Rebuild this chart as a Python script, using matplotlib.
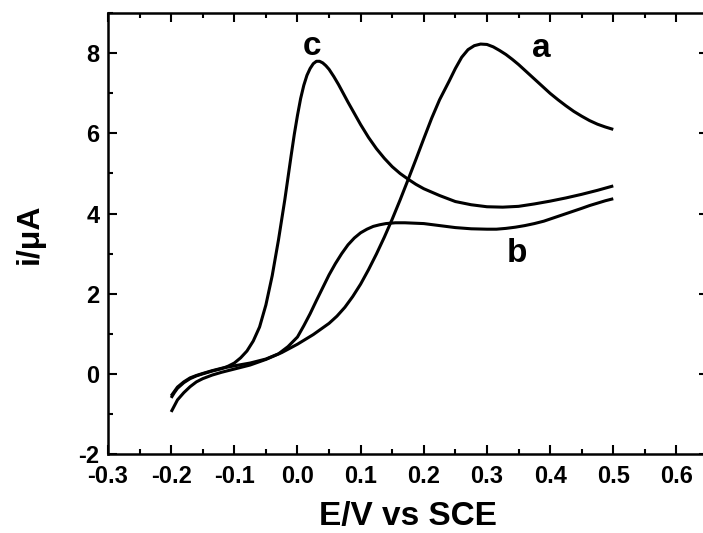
import matplotlib
matplotlib.use("Agg")
import matplotlib.pyplot as plt
from matplotlib.ticker import MultipleLocator

plt.rcParams['font.family'] = ['Liberation Sans', 'DejaVu Sans']
plt.rcParams['font.weight'] = 'bold'

# Linear sweep voltammograms (current vs potential)
E_a = [-0.2, -0.195, -0.19, -0.18, -0.17, -0.16, -0.15, -0.135, -0.12, -0.1, -0.075,
       -0.05, -0.025, 0.0, 0.025, 0.05, 0.0625, 0.075, 0.0875, 0.1, 0.1125, 0.125,
       0.1375, 0.15, 0.1625, 0.175, 0.1875, 0.2, 0.2125, 0.225,
       0.24, 0.25, 0.26, 0.27, 0.28, 0.29, 0.3, 0.31, 0.32, 0.33, 0.34, 0.35, 0.3625,
       0.375, 0.3875, 0.4, 0.4125, 0.425, 0.4375, 0.45, 0.4625, 0.475, 0.4875, 0.5]
i_a = [-0.95, -0.8, -0.65, -0.47, -0.32, -0.2, -0.12, -0.03, 0.04, 0.12, 0.22,
       0.36, 0.53, 0.74, 0.98, 1.26, 1.44, 1.66, 1.93, 2.24, 2.6, 2.99,
       3.41, 3.86, 4.34, 4.84, 5.35, 5.87, 6.38, 6.84,
       7.3, 7.62, 7.9, 8.09, 8.19, 8.23, 8.22, 8.16, 8.07, 7.97, 7.85, 7.72, 7.54,
       7.36, 7.18, 7.0, 6.84, 6.69, 6.55, 6.43, 6.32, 6.23, 6.16, 6.1]

E_b = [-0.2, -0.195, -0.19, -0.18, -0.17, -0.16, -0.15, -0.135, -0.12, -0.1, -0.075,
       -0.05, -0.03, -0.015, 0.0, 0.01, 0.02, 0.03, 0.04, 0.05, 0.06, 0.07, 0.08,
       0.09, 0.1, 0.11, 0.12, 0.13, 0.14, 0.155, 0.17, 0.185, 0.2, 0.225, 0.25,
       0.275, 0.3, 0.315, 0.33, 0.345, 0.36, 0.375, 0.39, 0.405, 0.42, 0.435, 0.45,
       0.4625, 0.475, 0.4875, 0.5]
i_b = [-0.55, -0.44, -0.33, -0.2, -0.1, -0.04, 0.01, 0.08, 0.14, 0.2, 0.27,
       0.37, 0.5, 0.68, 0.92, 1.2, 1.5, 1.83, 2.15, 2.47, 2.75, 3.0, 3.22,
       3.39, 3.52, 3.61, 3.68, 3.72, 3.75, 3.77, 3.77, 3.76, 3.75, 3.7, 3.65,
       3.62, 3.61, 3.61, 3.63, 3.66, 3.7, 3.75, 3.81, 3.89, 3.97, 4.05, 4.13,
       4.2, 4.26, 4.32, 4.37]

E_c = [-0.2, -0.195, -0.19, -0.18, -0.17, -0.16, -0.15, -0.135, -0.12, -0.11, -0.1,
       -0.09, -0.08, -0.07, -0.06, -0.05, -0.04, -0.03, -0.02, -0.01, -0.005, 0.0,
       0.005, 0.01, 0.015, 0.02, 0.025, 0.03, 0.035, 0.04, 0.045, 0.05, 0.0575,
       0.065, 0.0725, 0.08, 0.09, 0.1, 0.1125, 0.125, 0.1375, 0.15, 0.1625, 0.175,
       0.1875, 0.2, 0.225, 0.25, 0.275, 0.3, 0.325, 0.35, 0.375, 0.4, 0.425, 0.45,
       0.475, 0.5]
i_c = [-0.6, -0.47, -0.36, -0.22, -0.12, -0.05, 0.0, 0.07, 0.13, 0.19, 0.27,
       0.4, 0.57, 0.82, 1.17, 1.72, 2.45, 3.35, 4.35, 5.45, 5.98, 6.45,
       6.87, 7.2, 7.45, 7.62, 7.74, 7.8, 7.8, 7.76, 7.69, 7.6, 7.42,
       7.22, 7.0, 6.78, 6.5, 6.22, 5.9, 5.62, 5.38, 5.17, 5.0, 4.86,
       4.73, 4.62, 4.45, 4.3, 4.22, 4.17, 4.16, 4.18, 4.24, 4.31, 4.39, 4.48,
       4.58, 4.69]

curve_labels = ['a', 'b', 'c']
label_pos = [(0.3855, 7.9), (0.3475, 2.79), (0.023, 7.96)]

fig = plt.figure(figsize=(7.03, 5.33), dpi=100)
ax = fig.add_axes([108 / 703, 79 / 533, 600 / 703, 440.8 / 533])

for E, i in [(E_a, i_a), (E_b, i_b), (E_c, i_c)]:
    ax.plot(E, i, color='black', lw=2.2, solid_capstyle='butt', solid_joinstyle='round')

for lab, (x, y) in zip(curve_labels, label_pos):
    ax.text(x, y, lab, fontsize=24, fontweight='bold', ha='center', va='baseline')

ax.set_xlim(-0.3, 0.65)
ax.set_ylim(-2, 9)
ax.xaxis.set_minor_locator(MultipleLocator(0.05))
ax.yaxis.set_minor_locator(MultipleLocator(1))
ax.set_xticks([-0.3, -0.2, -0.1, 0.0, 0.1, 0.2, 0.3, 0.4, 0.5, 0.6])
ax.set_xticklabels(['-0.3', '-0.2', '-0.1', '0.0', '0.1', '0.2', '0.3', '0.4', '0.5', '0.6'])
ax.set_yticks([-2, 0, 2, 4, 6, 8])
ax.set_yticklabels(['-2', '0', '2', '4', '6', '8'])

ax.tick_params(which='both', direction='in', top=True, right=True, width=1.5)
ax.tick_params(which='major', length=6.5, labelsize=17)
ax.tick_params(axis='x', which='major', pad=8)
ax.tick_params(axis='y', which='major', pad=6)
ax.tick_params(which='minor', length=3.5)
for lbl in ax.get_xticklabels() + ax.get_yticklabels():
    lbl.set_fontweight('bold')
for s in ax.spines.values():
    s.set_linewidth(1.8)

ax.set_xlabel('E/V vs SCE', fontsize=24, fontweight='bold', labelpad=9)
ax.set_ylabel('i/\u03bcA', fontsize=23, fontweight='bold', labelpad=24)

fig.savefig('out.png', dpi=100)
